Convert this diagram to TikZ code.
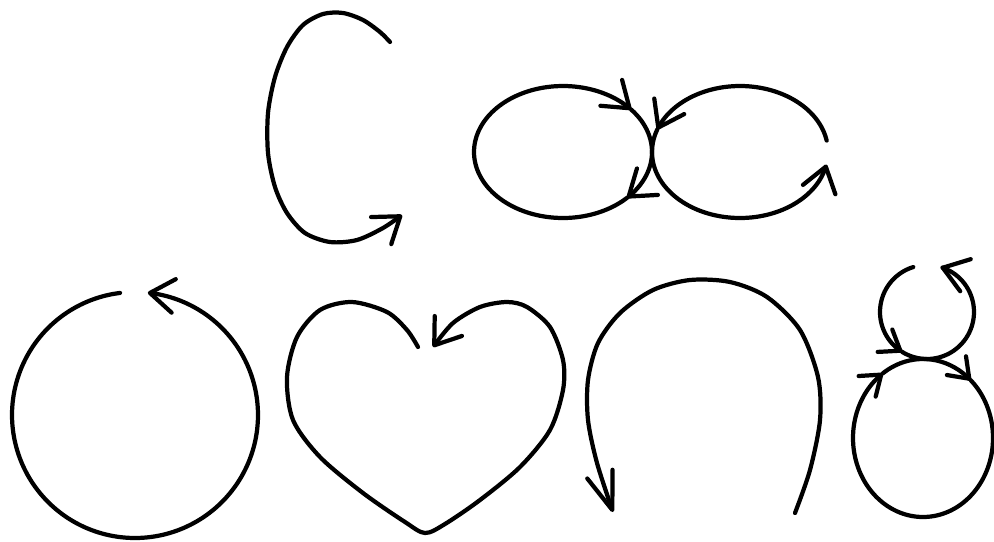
\documentclass[tikz,border=0pt]{standalone}
\usetikzlibrary{arrows.meta}
\begin{document}
\begin{tikzpicture}[x=0.025cm, y=-0.025cm, line width=3pt, line cap=round, line join=round,
  >={Straight Barb[length=17pt,width=24pt,round]},
  tipS/.style={-{Straight Barb[length=13pt,width=19pt,round]}},
  tipL/.style={-{Straight Barb[length=27pt,width=19pt,round]}}]
  \useasboundingbox (0,0) rectangle (994,541);
  % C
  \draw[->, smooth] plot coordinates {(390,42) (380,32) (363,20) (343,13) (323,14) (303,25) (287,47) (275,77) (268,113) (268,153) (275,187) (287,213) (305,233) (330,242) (357,240) (383,228) (402,215)};
  % two loops
  \draw[->, domain=44:320, samples=60, smooth] plot ({563+89*cos(\x)},{152+66*sin(\x)});
  \draw[->, domain=-40:44, samples=30, smooth] plot ({563+89*cos(\x)},{152+66*sin(\x)});
  \draw[->, domain=10:160, samples=40, smooth] plot ({740+88*cos(\x)},{152-66*sin(\x)});
  \draw[->, domain=160:349, samples=50, smooth] plot ({740+88*cos(\x)},{152-66*sin(\x)});
  % circle
  \draw[->, domain=97:444, samples=100, smooth] plot ({135+123*cos(\x)},{415-123*sin(\x)});
  % heart
  \draw[->, smooth] plot coordinates {(418,347) (407,330) (387,312) (352,302) (320,310) (297,337) (287,377) (293,420) (320,457) (363,493) (405,522) (425,533) (445,524) (480,500) (520,467) (550,430) (563,390) (563,360) (550,327) (527,307) (507,302) (480,307) (453,323) (433,347)};
  % arch
  \draw[tipL, smooth] plot coordinates {(795,513) (810,470) (820,420) (818,377) (800,330) (767,297) (730,282) (690,280) (653,290) (620,313) (598,343) (588,380) (588,420) (597,463) (613,512)};
  % snowman
  \draw[tipS, domain=107:238, samples=40, smooth] plot ({927+47*cos(\x)},{312-47*sin(\x)});
  \draw[->, domain=238:433, samples=50, smooth] plot ({927+47*cos(\x)},{312-47*sin(\x)});
  \draw[tipS, domain=313:595, samples=70, smooth] plot ({923+70*cos(\x)},{438+79*sin(\x)});
  \draw[tipS, domain=235:313, samples=30, smooth] plot ({923+70*cos(\x)},{438+79*sin(\x)});
\end{tikzpicture}
\end{document}
